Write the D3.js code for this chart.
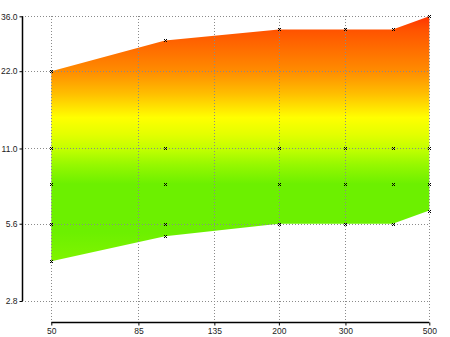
<!DOCTYPE html>
<html><head><meta charset="utf-8">
<script src="https://cdn.jsdelivr.net/npm/d3@7"></script>
<style>body{margin:0;background:#fff}svg{display:block}</style>
</head><body>
<svg id="chart" width="450" height="337"></svg>
<script>
const xValues = [50, 100, 200, 300, 400, 500];
const upperValues = [22, 29, 32, 32, 32, 36];
const row11 = [11, 11, 11, 11, 11, 11];
const row8 = [8, 8, 8, 8, 8, 8];
const row56 = [5.6, 5.6, 5.6, 5.6, 5.6, null];
const lowerValues = [4.0, 5.0, 5.6, 5.6, 5.6, 6.3];
const xTicks = [50, 85, 135, 200, 300, 500];
const yTicks = [2.8, 5.6, 11, 22, 36];
const colorStops = [
  [36, "#ff3300"], [32, "#ff5200"], [22, "#ff8c00"], [18, "#ffbe00"],
  [14.5, "#ffff00"], [12.5, "#e4ff00"], [11, "#c4ff00"], [9.5, "#96f800"],
  [8, "#6cf000"], [5.2, "#6cf000"], [4, "#80f400"]
];

const svg = d3.select("#chart");
const x = d3.scaleLog().domain([50, 500]).range([51.3, 429.3]);
const y = d3.scaleLog().domain([2.8, 36]).range([301, 16.3]);

// gradient
const defs = svg.append("defs");
const grad = defs.append("linearGradient").attr("id", "g")
  .attr("gradientUnits", "userSpaceOnUse")
  .attr("x1", 0).attr("x2", 0).attr("y1", y(36)).attr("y2", y(4));
const y0 = y(36), y1 = y(4);
colorStops.forEach(([v, c]) => {
  grad.append("stop").attr("offset", (y(v) - y0) / (y1 - y0)).attr("stop-color", c);
});

// area
const pts = xValues.map((d, i) => ({x: d, lo: lowerValues[i], hi: upperValues[i]}));
const area = d3.area().x(d => x(d.x)).y0(d => y(d.lo)).y1(d => y(d.hi));
svg.append("path").datum(pts).attr("d", area).attr("fill", "url(#g)");

// grid
const grid = svg.append("g").attr("stroke", "#8a8a8a").attr("stroke-width", 1)
  .attr("stroke-dasharray", "1,2").attr("shape-rendering", "crispEdges");
xTicks.forEach(t => grid.append("line")
  .attr("x1", Math.round(x(t)) + 0.5).attr("x2", Math.round(x(t)) + 0.5)
  .attr("y1", y(36)).attr("y2", 322));
yTicks.forEach(t => grid.append("line")
  .attr("x1", 22).attr("x2", x(500))
  .attr("y1", Math.round(y(t)) + 0.5).attr("y2", Math.round(y(t)) + 0.5));

// axes
const yAxis = d3.axisLeft(y).tickValues(yTicks).tickSize(3).tickPadding(2)
  .tickFormat(d3.format(".1f"));
const gy = svg.append("g").attr("transform", "translate(22.5,0)").call(yAxis);
const xAxis = d3.axisBottom(x).tickValues(xTicks).tickSize(3).tickPadding(2)
  .tickFormat(d3.format("d"));
const gx = svg.append("g").attr("transform", "translate(0,322.5)").call(xAxis);
[gx, gy].forEach(g => {
  g.select(".domain").attr("stroke", "#000").attr("stroke-width", 1.5);
  g.selectAll(".tick line").attr("stroke", "#000");
  g.selectAll("text").attr("fill", "#222")
    .style("font-family", "'Liberation Sans', Arial, sans-serif").style("font-size", "8.5px");
});
gx.select(".domain").attr("d", `M${x(50)},0H${x(500)}`);
gy.select(".domain").attr("d", `M0,${y(2.8)}V${y(36)}`);

// markers
const series = [upperValues, row11, row8, row56, lowerValues];
const marks = [];
series.forEach(s => s.forEach((v, i) => { if (v != null) marks.push([xValues[i], v]); }));
svg.append("g").selectAll("path").data(marks).join("path")
  .attr("transform", d => `translate(${Math.round(x(d[0])) + 0.5},${Math.round(y(d[1])) + 0.5})`)
  .attr("d", "M-1.5,-1.5L1.5,1.5M-1.5,1.5L1.5,-1.5")
  .attr("stroke", "#000").attr("stroke-width", 1).attr("fill", "none");
</script>
</body></html>
